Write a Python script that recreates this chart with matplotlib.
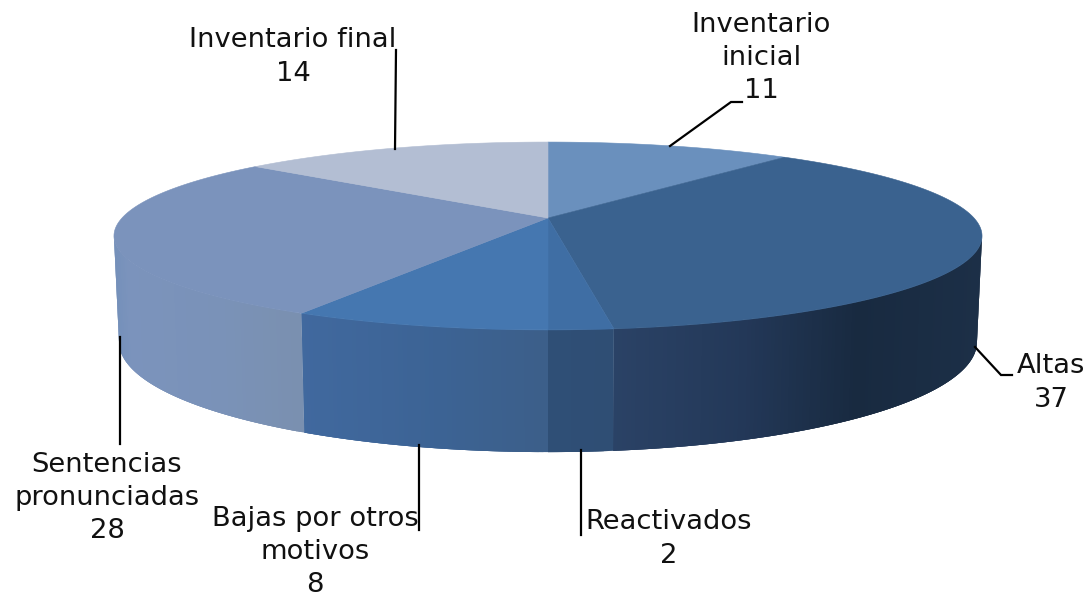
import numpy as np
import matplotlib
matplotlib.use("Agg")
import matplotlib.pyplot as plt
from matplotlib.collections import PolyCollection
from matplotlib.colors import to_rgb

# ---- data ----
labels = ["Inventario\ninicial", "Altas", "Reactivados", "Bajas por otros\nmotivos",
          "Sentencias\npronunciadas", "Inventario final"]
values = [11, 37, 2, 8, 28, 14]

# ---- style ----
top_colors = ["#6A90BD", "#3A628F", "#3F6EA4", "#4577B0", "#7B93BC", "#B3BED3"]
side_stops = [
    [(0, "#6A90BD"), (1, "#6A90BD")],
    [(0, "#2B4367"), (0.38, "#233858"), (0.68, "#182A40"), (1, "#1C2F47")],
    [(0, "#2F4F77"), (1, "#2F4E74")],
    [(0, "#41699F"), (0.6, "#3C6394"), (1, "#3C5F8A")],
    [(0, "#7490BA"), (0.08, "#7B93BC"), (0.6, "#7A92B8"), (1, "#7A90B0")],
    [(0, "#B3BED3"), (1, "#B3BED3")],
]
label_xy = [(761, 58), (1051, 383), (669, 539), (315, 552), (107, 498), (293, 57)]
leaders = [
    [(670, 146), (731, 102), (742, 102)],
    [(975, 347), (1001, 375), (1012, 375)],
    [(581, 450), (581, 535)],
    [(419, 445), (419, 530)],
    [(120, 337), (120, 444)],
    [(396, 50), (395, 149)],
]
FS = 19.7
K = 0.1915
TOP = dict(cx=548, cy=218, a=426, b=90.5)
BOT = dict(cx=548, cy=321, a=421, b=106)


def disk(theta, g):
    u, v = np.sin(theta), -np.cos(theta)
    d = 1 - K * v
    return g["cx"] + g["a"] * u / d, g["cy"] + g["b"] * v / d


fig = plt.figure(figsize=(10.87, 6.0), dpi=100, facecolor="white")
ax = fig.add_axes([0, 0, 1, 1])
ax.set_xlim(0, 1087)
ax.set_ylim(600, 0)
ax.axis("off")

edges = np.radians(np.concatenate([[0], np.cumsum(values)]) * 3.6)
vis0, vis1 = np.pi - np.arccos(K), np.pi + np.arccos(K)

# side wall: overlapping thin strips coloured by position within each slice
polys, cols = [], []
for i in range(len(values)):
    s, e = max(edges[i], vis0), min(edges[i + 1], vis1)
    if e <= s:
        continue
    x_s = disk(np.array([s, e]), TOP)[0]
    xmin, xmax = x_s.min(), x_s.max()
    n = max(4, int((e - s) / np.radians(0.5)))
    th = np.linspace(s, e, n + 1)
    tx, ty = disk(th, TOP)
    bx, by = disk(th, BOT)
    pos = [p for p, _ in side_stops[i]]
    rgb = np.array([to_rgb(c) for _, c in side_stops[i]])
    for j in range(n - 1, -1, -1):
        jj = min(j + 3, n)
        polys.append([(tx[j], ty[j]), (tx[jj], ty[jj]), (bx[jj], by[jj]), (bx[j], by[j])])
        t = ((tx[j] + tx[j + 1]) / 2 - xmin) / (xmax - xmin)
        cols.append([np.interp(t, pos, rgb[:, c]) for c in range(3)])
ax.add_collection(PolyCollection(polys, facecolors=cols, edgecolors="none", zorder=1))

# top face
for i in range(len(values)):
    th = np.linspace(edges[i], edges[i + 1], 200)
    x, y = disk(th, TOP)
    ax.fill(np.r_[TOP["cx"], x], np.r_[TOP["cy"], y], color=top_colors[i], lw=0.4, zorder=2)

# leader lines and labels
for pts in leaders:
    xs, ys = zip(*pts)
    ax.plot(xs, ys, color="black", lw=1.6, zorder=3, solid_joinstyle="miter")
for lab, val, (x, y) in zip(labels, values, label_xy):
    ax.text(x, y, f"{lab}\n{val}", ha="center", va="center", fontsize=FS,
            family="DejaVu Sans", color="#111111", linespacing=1.37, zorder=4)

fig.savefig("out.png", dpi=100, facecolor="white")
